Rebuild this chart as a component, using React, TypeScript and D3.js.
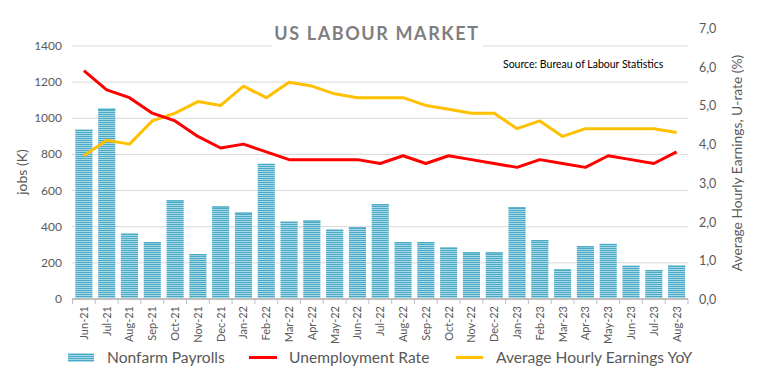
import React from "react";
import * as d3 from "d3";

const months = [
  "Jun-21", "Jul-21", "Aug-21", "Sep-21", "Oct-21", "Nov-21", "Dec-21",
  "Jan-22", "Feb-22", "Mar-22", "Apr-22", "May-22", "Jun-22", "Jul-22",
  "Aug-22", "Sep-22", "Oct-22", "Nov-22", "Dec-22", "Jan-23", "Feb-23",
  "Mar-23", "Apr-23", "May-23", "Jun-23", "Jul-23", "Aug-23",
];

const payrolls = [
  937, 1053, 362, 314, 546, 249, 512, 478, 748, 428, 434, 384, 397, 525,
  315, 315, 285, 258, 258, 508, 326, 164, 292, 305, 184, 160, 185,
];

const unemployment = [
  5.9, 5.4, 5.2, 4.8, 4.6, 4.2, 3.9, 4.0, 3.8, 3.6, 3.6, 3.6, 3.6, 3.5,
  3.7, 3.5, 3.7, 3.6, 3.5, 3.4, 3.6, 3.5, 3.4, 3.7, 3.6, 3.5, 3.8,
];

const earnings = [
  3.7, 4.1, 4.0, 4.6, 4.8, 5.1, 5.0, 5.5, 5.2, 5.6, 5.5, 5.3, 5.2, 5.2,
  5.2, 5.0, 4.9, 4.8, 4.8, 4.4, 4.6, 4.2, 4.4, 4.4, 4.4, 4.4, 4.3,
];

const leftTicks = [0, 200, 400, 600, 800, 1000, 1200, 1400];
const rightTicks = [0, 1, 2, 3, 4, 5, 6, 7];

const W = 767;
const H = 392;
const FONT = "Lato, 'Open Sans', sans-serif";
const TEXT = "#595959";

export default function App() {
  const x = d3
    .scaleBand<string>()
    .domain(months)
    .range([72.5, 688])
    .paddingInner(0.25)
    .paddingOuter(0.125);
  const yLeft = d3.scaleLinear().domain([0, 1400]).range([299, 46]);
  const yRight = d3.scaleLinear().domain([0, 7]).range([299, 28]);

  const cx = (m: string) => (x(m) as number) + x.bandwidth() / 2;

  const line = d3
    .line<number>()
    .x((_, i) => cx(months[i]))
    .y((d) => yRight(d));

  const step = x.step();
  const x0 = 72.5;
  const boundaries = d3.range(months.length + 1).map((i) => x0 + i * step);

  return (
    <div style={{ position: "absolute", left: 0, top: 0 }}>
      <svg width={W} height={H} style={{ display: "block", fontFamily: FONT }}>
        <defs>
          <pattern id="stripes" width="4" height="2" patternUnits="userSpaceOnUse">
            <rect width="4" height="2" fill="#a8d7e5" />
            <rect width="4" height="1" fill="#4aabc6" />
          </pattern>
        </defs>
        <rect width={W} height={H} fill="#fff" />

        {/* gridlines */}
        {leftTicks.map((t) => (
          <line key={t} x1={72} x2={688} y1={yLeft(t)} y2={yLeft(t)} stroke="#d9d9d9" strokeWidth={1} />
        ))}

        {/* bars */}
        {months.map((m, i) => (
          <g key={m}>
            <rect
              x={x(m)}
              y={yLeft(payrolls[i])}
              width={x.bandwidth()}
              height={yLeft(0) - yLeft(payrolls[i])}
              fill="url(#stripes)"
            />
            <rect
              x={x(m)}
              y={yLeft(payrolls[i])}
              width={x.bandwidth()}
              height={1.2}
              fill="#4aabc6"
            />
          </g>
        ))}

        {/* x axis */}
        <line x1={72} x2={688} y1={299} y2={299} stroke="#bfbfbf" strokeWidth={2} />
        {boundaries.map((b, i) => (
          <line key={i} x1={b} x2={b} y1={299} y2={304} stroke="#bfbfbf" strokeWidth={1} />
        ))}
        {months.map((m) => (
          <text
            key={m}
            transform={`translate(${cx(m) + 4},306) rotate(-90)`}
            textAnchor="end"
            fontSize={11}
            fill={TEXT}
          >
            {m}
          </text>
        ))}

        {/* lines */}
        <path d={line(earnings) || ""} fill="none" stroke="#ffc000" strokeWidth={3} strokeLinejoin="round" />
        <path d={line(unemployment) || ""} fill="none" stroke="#ff0000" strokeWidth={3} strokeLinejoin="round" />

        {/* left axis */}
        {leftTicks.map((t) => (
          <text key={t} x={62} y={yLeft(t) + 4} textAnchor="end" fontSize={12} fill={TEXT}>
            {t}
          </text>
        ))}
        <text transform="translate(27,172) rotate(-90)" textAnchor="middle" fontSize={14} fill={TEXT}>
          jobs (K)
        </text>

        {/* right axis */}
        {rightTicks.map((t) => (
          <text key={t} x={699} y={yRight(t) + 5} fontSize={12.5} fill={TEXT}>
            {d3.format(".1f")(t).replace(".", ",")}
          </text>
        ))}
        <text transform="translate(742,163) rotate(-90)" textAnchor="middle" fontSize={13.8} fill={TEXT}>
          Average Hourly Earnings, U-rate (%)
        </text>

        {/* title */}
        <rect x={272} y={20} width={211} height={34} fill="#fff" />
        <text
          x={377}
          y={40}
          textAnchor="middle"
          fontSize={18}
          fontWeight="bold"
          letterSpacing={1.6}
          fill="#7f7f7f"
        >
          US LABOUR MARKET
        </text>

        {/* source */}
        <text x={503} y={68} fontSize={10.5} fill="#000">
          Source: Bureau of Labour Statistics
        </text>

        {/* legend */}
        <rect x={68} y={353} width={26} height={9} fill="url(#stripes)" />
        <text x={107} y={363} fontSize={15.6} fill={TEXT}>Nonfarm Payrolls</text>
        <line x1={249} x2={277} y1={357.5} y2={357.5} stroke="#ff0000" strokeWidth={3} />
        <text x={289} y={363} fontSize={15.6} fill={TEXT}>Unemployment Rate</text>
        <line x1={456} x2={483} y1={357.5} y2={357.5} stroke="#ffc000" strokeWidth={3} />
        <text x={496} y={363} fontSize={15.6} fill={TEXT}>Average Hourly Earnings YoY</text>
      </svg>
    </div>
  );
}
